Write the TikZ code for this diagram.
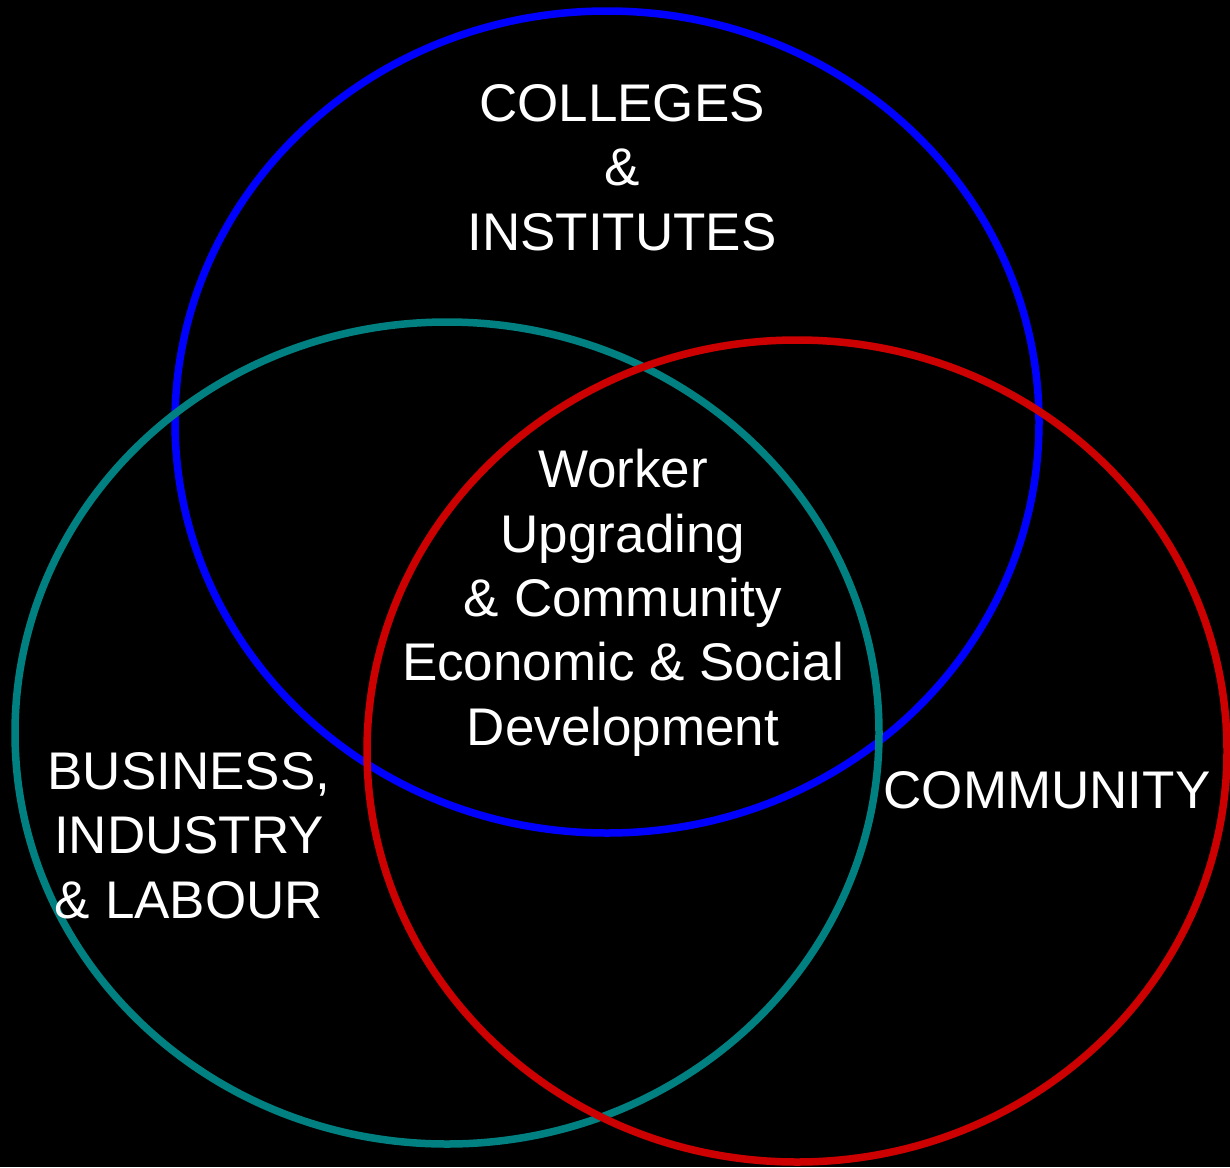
\documentclass[tikz,border=0pt]{standalone}
\usepackage{fontspec}
\setmainfont{Liberation Sans}
\definecolor{ringblue}{RGB}{0,0,255}
\definecolor{ringteal}{RGB}{0,128,128}
\definecolor{ringred}{RGB}{204,0,0}
\begin{document}
\begin{tikzpicture}[x=1pt,y=-1pt,
  ring/.style={line width=7.5pt},
  label/.style={text=white,align=center,inner sep=0pt,anchor=base,
    font=\fontsize{53}{64.3}\selectfont}]
  \fill[black] (0,0) rectangle (1230,1167);
  \useasboundingbox (0,0) rectangle (1230,1167);
  % the three overlapping rings
  \draw[ring,ringblue] (607,422) ellipse [x radius=432, y radius=411];
  \draw[ring,ringteal] (447,733) ellipse [x radius=432, y radius=411];
  \draw[ring,ringred] (797,751) ellipse [x radius=430, y radius=411];
  % labels (placed by the baseline of their last line)
  \node[label] (colleges) at (622,250) {COLLEGES\\\&\\INSTITUTES};
  \node[label] (centre) at (623,745) {Worker\\Upgrading\\\& Community\\Economic \& Social\\Development};
  \node[label] (business) at (189,918) {BUSINESS,\\INDUSTRY\\\& LABOUR};
  \node[label] (community) at (1047,808) {COMMUNITY};
\end{tikzpicture}
\end{document}
